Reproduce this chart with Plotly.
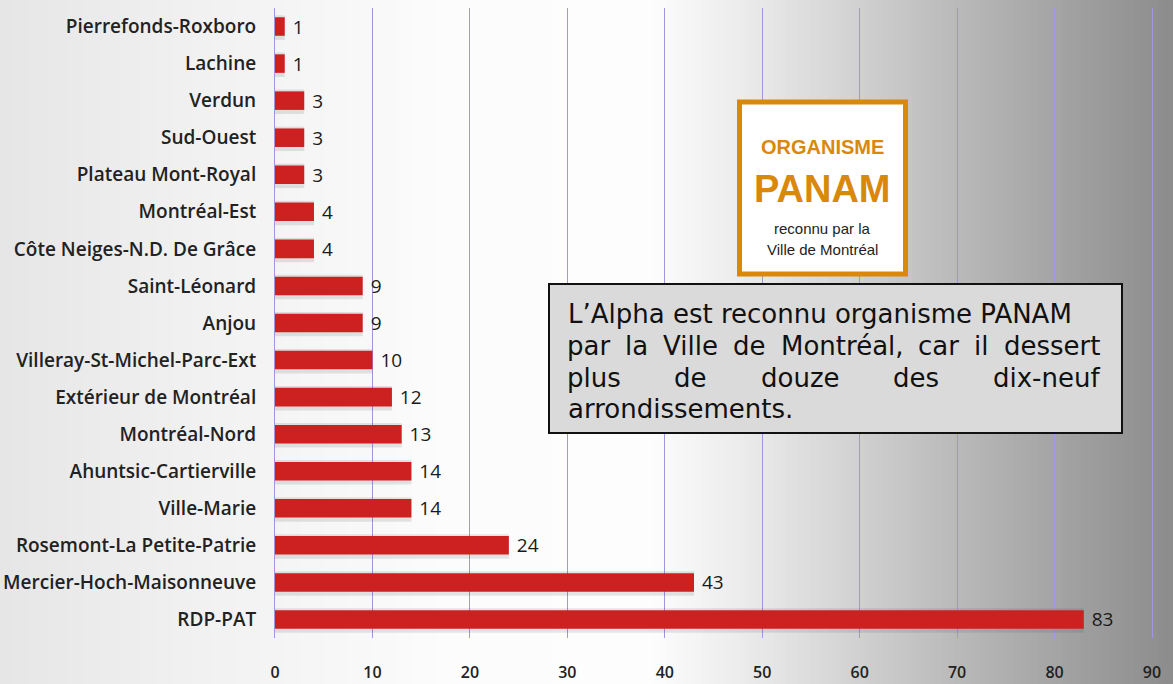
import plotly.graph_objects as go

# ---- data (top to bottom as displayed) ----
categories = [
    "Pierrefonds-Roxboro", "Lachine", "Verdun", "Sud-Ouest", "Plateau Mont-Royal",
    "Montréal-Est", "Côte Neiges-N.D. De Grâce", "Saint-Léonard", "Anjou",
    "Villeray-St-Michel-Parc-Ext", "Extérieur de Montréal", "Montréal-Nord",
    "Ahuntsic-Cartierville", "Ville-Marie", "Rosemont-La Petite-Patrie",
    "Mercier-Hoch-Maisonneuve", "RDP-PAT",
]
values = [1, 1, 3, 3, 3, 4, 4, 9, 9, 10, 12, 13, 14, 14, 24, 43, 83]
x_ticks = [0, 10, 20, 30, 40, 50, 60, 70, 80, 90]

note_lines = [
    "L’Alpha est reconnu organisme PANAM",
    "par la Ville de Montréal, car il dessert",
    "plus de douze des dix-neuf",
    "arrondissements.",
]
note_justified = [False, True, True, False]

W, H = 1173, 684
L, R, T, B = 275, 21, 8, 46
PW, PH = W - L - R, H - T - B


def px(xp):
    return (xp - L) / PW


def py(yp):
    return (H - B - yp) / PH


# background gradient (left light grey -> white -> darker grey on right)
stops = [(0, 230), (200, 241), (450, 252), (650, 253), (770, 230),
         (860, 208), (972, 182), (1085, 158), (1173, 140)]


def grey(xp):
    for (x0, g0), (x1, g1) in zip(stops[:-1], stops[1:]):
        if x0 <= xp <= x1:
            return g0 + (g1 - g0) * (xp - x0) / (x1 - x0)
    return stops[-1][1]


shapes = []
step = 6
xp = 0
while xp < W:
    g = int(round(grey(xp + step / 2)))
    shapes.append(dict(type="rect", xref="paper", yref="paper", layer="below",
                       x0=px(xp), x1=px(xp + step + 0.5), y0=py(H), y1=py(0),
                       line=dict(width=0), fillcolor=f"rgb({g},{g},{g})"))
    xp += step

orange = "#d9880c"
# PANAM logo box
shapes.append(dict(type="rect", xref="paper", yref="paper", layer="above",
                   x0=px(739.5), x1=px(905.5), y0=py(274), y1=py(102),
                   fillcolor="white", line=dict(color=orange, width=5)))
# text box
shapes.append(dict(type="rect", xref="paper", yref="paper", layer="above",
                   x0=px(549), x1=px(1122), y0=py(433), y1=py(284),
                   fillcolor="#dadada", line=dict(color="#111111", width=2)))

annotations = []
logo_font = "Liberation Sans, Arial"
annotations.append(dict(xref="paper", yref="paper", x=px(822), y=py(134), text="<b>ORGANISME</b>",
                        showarrow=False, font=dict(family=logo_font, size=20, color=orange)))
annotations.append(dict(xref="paper", yref="paper", x=px(822), y=py(166), text="<b>PANAM</b>",
                        showarrow=False, font=dict(family=logo_font, size=38, color=orange)))
annotations.append(dict(xref="paper", yref="paper", x=px(822), y=py(228), text="reconnu par la",
                        showarrow=False, font=dict(family=logo_font, size=15, color="#222")))
annotations.append(dict(xref="paper", yref="paper", x=px(822), y=py(250), text="Ville de Montréal",
                        showarrow=False, font=dict(family=logo_font, size=15, color="#222")))

# approximate DejaVu Sans advance widths (em) for justification
cw = {" ": .318, "a": .613, "c": .550, "d": .635, "e": .615, "é": .615, "f": .352,
      "h": .634, "i": .278, "l": .278, "m": .974, "n": .634, "o": .612, "p": .635,
      "r": .411, "s": .521, "t": .392, "u": .634, "x": .592, "z": .525, "g": .635,
      ",": .318, "-": .361, ".": .318, "V": .684, "M": .863, "A": .684, "L": .557,
      "P": .603, "N": .748, "’": .318}
FS = 26
box_font = dict(family="DejaVu Sans, Verdana", size=FS, color="#111")
x_left, x_just, x_right = 566, 567, 1100
line_y = [314, 346, 378, 409]
for text, just, yy in zip(note_lines, note_justified, line_y):
    if not just:
        annotations.append(dict(xref="paper", yref="paper", x=px(x_left), y=py(yy), xanchor="left",
                                text=text, showarrow=False, font=box_font))
        continue
    words = text.split(" ")
    widths = [sum(cw.get(c, .6) for c in w) * FS for w in words]
    gap = ((x_right - x_just) - sum(widths)) / (len(words) - 1)
    cur = x_just
    for w, wd in zip(words, widths):
        annotations.append(dict(xref="paper", yref="paper", x=px(cur + wd / 2), y=py(yy),
                                xanchor="center", text=w, showarrow=False, font=box_font))
        cur += wd + gap

fig = go.Figure()
# soft drop shadow behind each bar
fig.add_trace(go.Bar(
    y=categories, x=values, orientation="h",
    marker=dict(color="rgba(60,60,60,0.13)", line=dict(width=0)),
    width=0.66, offset=-0.30, hoverinfo="skip",
))
fig.add_trace(go.Bar(
    y=categories, x=values, orientation="h",
    marker=dict(color="#cd2121", line=dict(width=0)),
    width=0.5,
    text=[f" {v}" for v in values], textposition="outside", constraintext="none",
    textfont=dict(family="Open Sans", size=19, color="#1a1a1a"),
    cliponaxis=False,
))

grid_col = "#a393e0"
fig.update_layout(
    width=W, height=H, barmode="overlay",
    margin=dict(l=L, r=R, t=T, b=B, autoexpand=False),
    paper_bgcolor="white", plot_bgcolor="rgba(0,0,0,0)",
    showlegend=False,
    shapes=shapes, annotations=annotations,
    xaxis=dict(range=[0, 90], tickvals=x_ticks, ticktext=[str(t) for t in x_ticks],
               showgrid=True, gridcolor=grid_col, gridwidth=1, zeroline=False,
               showline=False, ticks="", ticklabelstandoff=23, automargin=False,
               tickfont=dict(family="Open Sans", size=16, color="#222", weight=600)),
    yaxis=dict(categoryorder="array", categoryarray=categories, autorange="reversed",
               showgrid=False, zeroline=False, showline=True, mirror=True,
               linecolor=grid_col, linewidth=1, ticks="", ticklabelstandoff=14,
               automargin=False,
               tickfont=dict(family="Open Sans", size=19, color="#222", weight=600)),
)

fig.write_html("out.html", config={"displayModeBar": False},
               post_script="document.body.style.margin='0';document.body.style.overflow='hidden';")
